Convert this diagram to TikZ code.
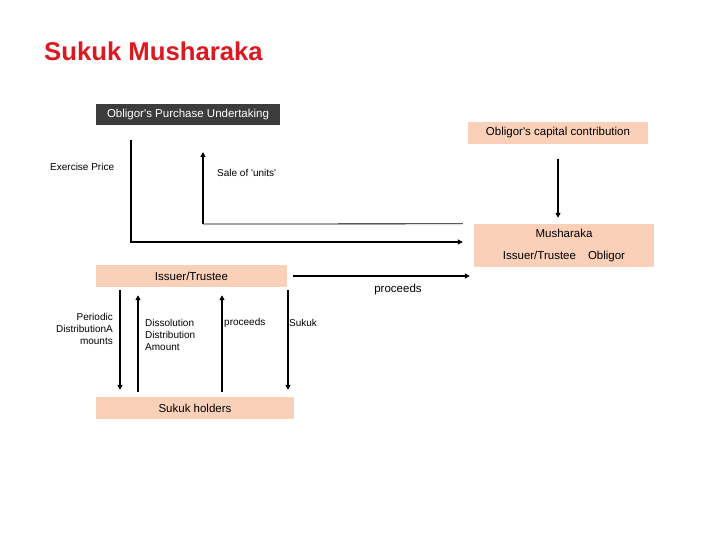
\documentclass[tikz,border=0pt]{standalone}
\usepackage{fontspec}
\setmainfont{Liberation Sans}
\usepackage{xcolor}
\definecolor{skpeach}{HTML}{FBD0B9}
\definecolor{skdark}{HTML}{3C3C3C}
\definecolor{skred}{HTML}{DC1820}
\usepackage{tikz}
\usetikzlibrary{arrows.meta,positioning}
\newcommand{\q}{\textquotesingle}

\begin{document}
\begin{tikzpicture}[x=1pt,y=-1pt,
  box/.style={fill=skpeach,inner sep=0pt,font=\fontsize{11.5}{22}\selectfont},
  lbl/.style={inner sep=0pt,font=\fontsize{10}{12}\selectfont},
  flow/.style={-{Triangle[length=5pt,width=5pt]},line width=1.8pt}]
  \useasboundingbox (0,0) rectangle (720,540);
  \node[anchor=west,inner sep=0pt,text=skred,font=\fontsize{25.7}{30}\selectfont\bfseries] (title) at (44,51) {Sukuk Musharaka};
  \node[box,fill=skdark,text=white,minimum width=184pt,minimum height=21pt] (pu) at (188,114.5) {Obligor\q s Purchase Undertaking};
  \node[box,minimum width=180pt,minimum height=22pt] (cap) at (558,133) {Obligor\q s capital contribution};
  \node[box,minimum width=180pt,minimum height=43pt,align=center] (mush) at (564,245.5) {\raisebox{-2pt}{Musharaka}\\\raisebox{-2pt}{Issuer/Trustee\hspace{12pt}Obligor}};
  \node[box,minimum width=191pt,minimum height=22pt] (iss) at (191.5,276) {Issuer/Trustee};
  \node[box,minimum width=198pt,minimum height=22pt] (hold) at (195,408) {Sukuk holders};
  \coordinate (ep) at (131,140);
  \coordinate (sb) at (203,224);
  \coordinate (st) at (203,152);
  \draw[flow,shorten <=15pt,shorten >=6pt] (cap.south) -- (cap.south |- mush.north);
  \draw[flow,shorten >=11pt] (ep) |- ([yshift=3.5pt]mush.west);
  \draw[line width=0.8pt,shorten <=11pt] (mush.north west) -- (sb);
  \draw[flow] (sb) -- (st);
  \draw[flow,shorten <=6pt,shorten >=4pt] (iss.east) -- (iss.east -| mush.west);
  \foreach \x in {120,288} \draw[flow,shorten <=3pt,shorten >=7pt] (\x,0 |- iss.south) -- (\x,0 |- hold.north);
  \foreach \x in {138,222} \draw[flow,shorten <=5pt,shorten >=8pt] (\x,0 |- hold.north) -- (\x,0 |- iss.south);
  \node[lbl,anchor=west] (ex) at (50,167) {Exercise Price};
  \node[lbl,anchor=west] (sale) at (217,173) {Sale of \q units\q};
  \node[lbl,font=\fontsize{11.5}{14}\selectfont] (proc) at (398,290) {proceeds};
  \node[lbl,anchor=east,align=right] (per) at (113,329) {Periodic\\DistributionA\\mounts};
  \node[lbl,anchor=west,align=left] (dis) at (145,335) {Dissolution\\Distribution\\Amount};
  \node[lbl,anchor=west] (proc2) at (224,323) {proceeds};
  \node[lbl,anchor=west] (suk) at (289,323) {Sukuk};
\end{tikzpicture}
\end{document}
